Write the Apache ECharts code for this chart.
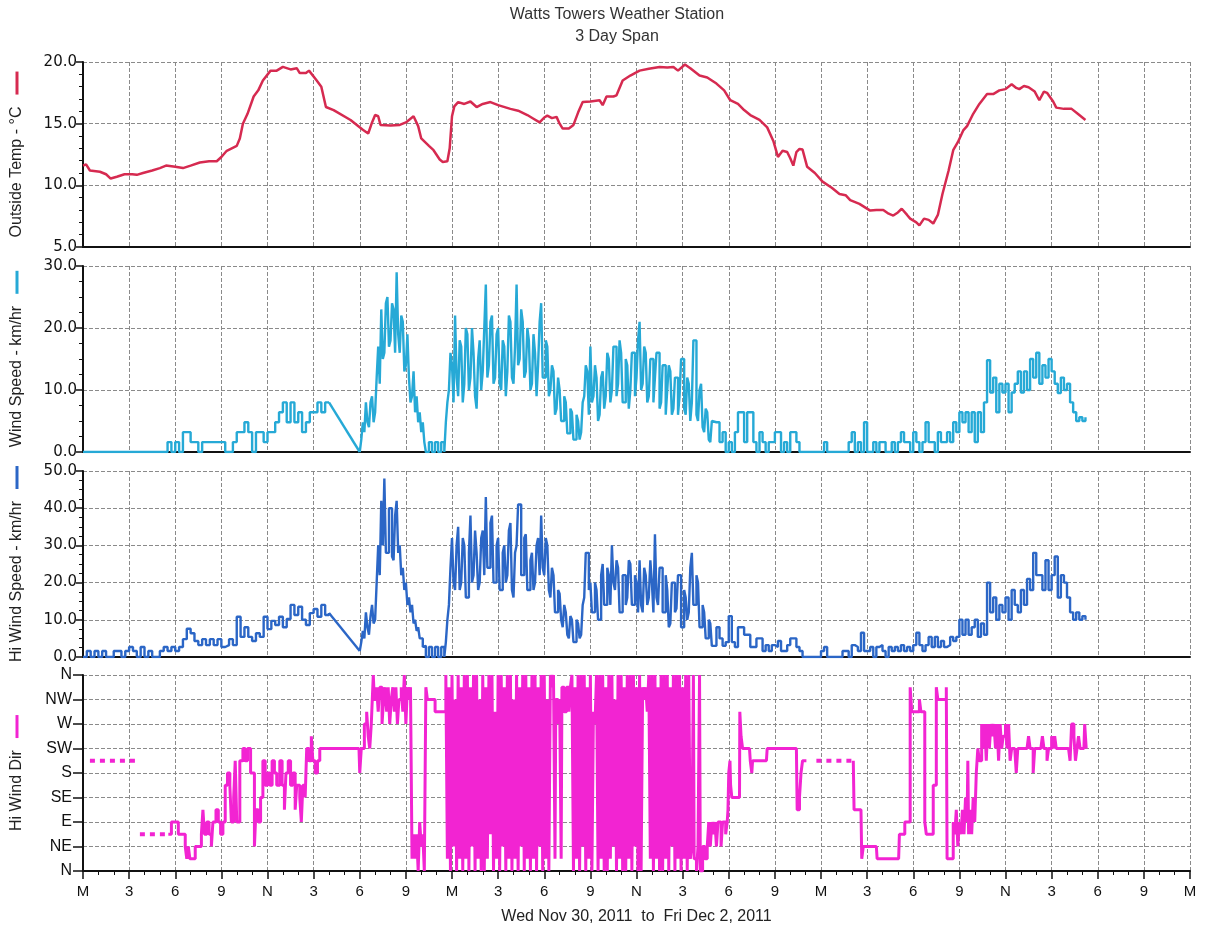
<!DOCTYPE html>
<html><head><meta charset="utf-8">
<script src="https://cdn.jsdelivr.net/npm/echarts@6/dist/echarts.min.js"></script>
<style>html,body{margin:0;padding:0;background:#fff}#c{width:1212px;height:930px}</style>
</head><body><div id="c"></div>
<script>
// ---------- tick labels ----------
const hourLabels = ['M','3','6','9','N','3','6','9'];
const dirLabels = ['N','NE','E','SE','S','SW','W','NW','N'];
const titleLines = ['Watts Towers Weather Station','3 Day Span'];
const xTitle = 'Wed Nov 30, 2011  to  Fri Dec 2, 2011';

// ---------- Outside temperature [hour, °C] ----------
const tempData = [[0,11.6],[0.2,11.7],[0.45,11.2],[1.1,11.1],[1.5,10.9],[1.8,10.55],[2.2,10.7],[2.7,10.9],[3.2,10.9],[3.5,10.85],[3.9,11.0],[4.5,11.2],[5.0,11.4],[5.4,11.6],[6.0,11.5],[6.5,11.4],[7.0,11.6],[7.6,11.85],[8.2,11.95],[8.7,11.95],[9.0,12.3],[9.35,12.8],[10.0,13.2],[10.2,13.8],[10.4,15.0],[10.7,15.8],[11.1,17.2],[11.4,17.7],[11.7,18.5],[12.2,19.3],[12.6,19.3],[13.0,19.6],[13.5,19.4],[13.9,19.5],[14.1,19.1],[14.5,19.1],[14.7,19.3],[15.2,18.5],[15.5,18.0],[15.8,16.35],[16.3,16.1],[17.4,15.3],[18.2,14.5],[18.55,14.2],[18.8,15.1],[19.0,15.7],[19.2,15.6],[19.35,14.9],[20.0,14.85],[20.6,14.9],[21.0,15.1],[21.5,15.6],[21.8,14.8],[22.0,13.8],[22.5,13.2],[22.8,12.85],[23.2,12.1],[23.4,11.9],[23.7,11.95],[23.85,13.0],[24.0,15.6],[24.15,16.4],[24.4,16.75],[24.8,16.6],[25.2,16.8],[25.6,16.35],[26.0,16.6],[26.5,16.75],[27.0,16.5],[27.8,16.2],[28.3,16.05],[28.9,15.7],[29.3,15.4],[29.7,15.1],[30.0,15.5],[30.2,15.65],[30.5,15.45],[30.8,15.55],[31.0,15.0],[31.2,14.6],[31.6,14.6],[31.9,14.9],[32.2,15.9],[32.5,16.75],[33.0,16.8],[33.6,16.9],[33.8,16.5],[34.05,17.2],[34.5,17.2],[34.7,17.3],[35.1,18.5],[35.6,18.9],[36.2,19.3],[36.8,19.45],[37.5,19.6],[38.0,19.55],[38.4,19.6],[38.7,19.3],[39.15,19.8],[39.5,19.5],[40.1,18.9],[40.6,18.75],[41.2,18.25],[41.7,17.7],[42.1,16.9],[42.6,16.6],[43.0,16.1],[43.4,15.7],[44.0,15.3],[44.5,14.7],[44.9,13.6],[45.2,12.3],[45.5,12.8],[45.8,12.7],[46.0,12.2],[46.2,11.6],[46.4,12.7],[46.6,12.95],[46.8,12.9],[47.1,11.5],[47.6,11.0],[48.1,10.3],[48.7,9.8],[49.2,9.3],[49.6,9.2],[49.9,8.8],[50.5,8.5],[51.2,7.95],[51.6,8.0],[52.05,8.0],[52.4,7.7],[52.7,7.55],[53.0,7.8],[53.25,8.1],[53.6,7.6],[53.8,7.3],[54.2,7.0],[54.4,6.75],[54.7,7.3],[55.0,7.2],[55.3,6.9],[55.6,7.6],[55.9,9.3],[56.3,11.2],[56.6,12.85],[56.9,13.5],[57.25,14.45],[57.5,14.8],[57.9,15.8],[58.3,16.6],[58.8,17.4],[59.2,17.4],[59.6,17.7],[60.0,17.8],[60.4,18.2],[60.7,17.9],[60.9,17.8],[61.2,18.05],[61.5,17.95],[61.9,17.6],[62.2,16.9],[62.5,17.6],[62.7,17.5],[63.1,16.8],[63.3,16.3],[63.8,16.2],[64.3,16.2],[64.7,15.8],[65.2,15.3]];

// ---------- Wind speed km/hr (uniform steps) ----------
const windAStart = 0, windAStep = 0.25;
const windA = [0,0,0,0,0,0,0,0,0,0,0,0,0,0,0,0,0,0,0,0,0,0,
 1.6,0,1.6,0,3.2,3.2,1.6,1.6,0,1.6,1.6,1.6,1.6,1.6,1.6,0,0,1.6,3.2,3.2,4.8,3.2,0,3.2,3.2,1.6,3.2,3.2,4.8,6.4,8.0,4.8,8.0,4.8,6.4,3.2,4.8,6.4,6.4,8.0,6.4,8.0,8.0];
const windBStart = 18, windBStep = 0.1;
const windB = [0,2,4.8,3.2,8.0,4.8,4.0,8.0,9.0,4.8,
 6.4,12,17,11,23,15,16,24,25,17,
 18,24,23,16,29,19,16,22,21,13,
 14,19,12,8,9,13,6.4,9,4.8,6.4,
 3.2,4.8,1.6,0,0,1.6,1.6,0,0,1.6,
 1.6,0,0,1.6,1.6,0,4.8,8,10,16,
 14,8,22,12,9,18,17,8,11,20,
 19,10,12,20,16,9,7,15,18,10,
 13,20,27,12,14,21,22,11,12,19,
 20,11,10,18,17,9,13,22,21,12,
 11,17,27,14,15,23,21,12,13,20,
 18,10,11,19,16,9,14,21,24,12,
 12,18,17,9,10,14,13,6,7,12,
 10,5,5,9,8,3,3,7,6.4,2,
 2,6,5,2,3.2,8,9,14,13,6,
 17,8,9,14,12,5,6,12,13,7,
 9,16,15,8,10,17,17,9,11,18,
 16,8,8,15,14,7,10,16,16,9,
 12,18,21,10,11,17,16,8,9,15,
 15,8,12,16,16,7,8,14,14,6,
 10,14,13,6,7,12,12,6,9,15,
 15,7,6,12,11,5,8,18,18,6,
 5,10,11,4,3.2,7,6.4,2,1.6,5,
 4.8];
const windCStart = 41.2, windCStep = 0.2;
const windC = [4.8,1.6,3.2,0,1.6,
 0,3.2,6.4,6.4,1.6,
 6.4,6.4,1.6,0,3.2,
 1.6,0,1.6,1.6,3.2,
 3.2,0,1.6,0,3.2,
 3.2,1.6,0,0,0,
 0,0,0,0,0,
 1.6,0,0,0,0,
 0,0,0,1.6,3.2,
 0,1.6,0,4.8,0,
 0,1.6,0,1.6,1.6,
 0,0,1.6,0,1.6,
 3.2,1.6,1.6,0,3.2,
 1.6,0,1.6,4.8,1.6,
 1.6,0,3.2,1.6,1.6,
 3.2,1.6,4.8,3.2,6.4,
 4.8,6.4,3.2,6.4,1.6,
 6.4,3.2,8.0,14.8,9.6,
 12,6.4,11,9.6,11,
 6.4,9.6,11,13,9.6,
 13,10,15,12,16,
 11,14,12,15,13,
 11,9.5,12,10,11,
 8,6.4,5,5.6,5,
 5.6];

// ---------- Hi wind speed km/hr ----------
const hiA = [0,1.6,0,1.6,0,1.6,0,0,1.6,1.6,
 0,1.6,2.7,1.6,0,2.7,0,1.6,0,0,
 1.6,2.7,1.6,2.7,1.6,2.7,4.8,7.6,6.4,4.3,
 3.2,4.8,3.2,4.8,3.2,4.8,2.7,3.2,4.8,3.2,
 10.8,5.4,8.0,5.4,4.3,6.4,5.4,10.8,7.5,9.7,
 8.6,10.8,8.0,10.2,14.0,11.3,13.5,10.0,8.6,11.8,
 12.9,10.8,14.0,11.3,11.8];
const hiB = [1.6,4,7,5,12,8,6,11,14,9,
 10,20,30,22,42,30,48,28,28,40,
 40,27,26,38,42,28,30,22,24,18,
 20,14,16,12,14,9,10,7,8,5,
 5,2.7,3,0,0,2.7,2.7,0,0,2.7,
 2.7,0,0,2.7,2.7,0,4,10,14,24,
 32,20,18,30,35,18,20,32,30,16,
 16,28,38,20,22,34,28,18,20,32,
 34,22,43,24,24,36,38,20,20,30,
 32,18,18,28,30,20,22,34,36,18,
 16,28,30,41,41,22,22,32,33,18,
 18,26,28,18,20,30,32,22,38,24,
 22,32,30,18,16,24,22,12,12,18,
 17,10,8,14,12,6,5,11,10,4,
 4,10,9,5,6,14,16,28,28,18,
 20,12,12,20,18,10,10,22,25,14,
 14,24,22,14,30,20,18,26,24,12,
 12,22,22,14,16,26,25,14,14,22,
 20,12,26,14,12,24,22,14,16,26,
 20,12,33,16,14,24,24,12,12,22,
 18,8,9,20,20,12,13,22,22,8,
 8,18,16,10,12,24,28,14,14,22,
 20,8,8,14,12,5,5,10,9,3,
 3];
const hiC = [8,5,3,4,11,
 4,2.7,8,8,6,
 6,2.7,2.7,5,5,
 1.6,3.2,1.6,3.2,2.7,
 4.3,1.6,1.6,3.2,5,
 5,2.7,1.6,0,0,
 0,0,0,0,1.6,
 2.7,0,0,0,0,
 0,1.6,1.6,0,3.2,
 2.7,1.6,6.5,1.6,1.6,
 2.7,0,2.7,3.2,1.6,
 0,2.7,1.6,2.7,1.6,
 3.2,1.6,2.7,1.6,3.2,
 6.5,3.2,1.6,3.2,5.4,
 2.7,5.4,2.7,4.3,2.7,
 3.2,5.4,4.3,5.4,10,
 6,10,6,8,10,
 5.4,9,6,20,12,
 16,10,14,12,16,
 10,18,14,12,18,
 14,21,18,28,22,
 22,18,26,18,22,
 27,16,22,20,16,
 12,10,12,10,11,
 10];

// ---------- Hi wind direction (degrees) ----------
const dirDot1 = [[0.45,202.5],[3.55,202.5]];
const dirDot2 = [[3.7,67.5],[5.55,67.5]];
const dirDot3 = [[47.7,202.5],[50.1,202.5]];
const dirA = [[5.55,67.5],[5.75,90],[5.95,90],[6.2,67.5],[6.5,67.5],[6.65,45],[6.75,22.5],[6.85,45],[6.95,22.5],[7.15,22.5],[7.3,45],[7.55,45],[7.7,67.5],[7.8,112.5],[7.9,67.5],[8.05,90],[8.2,67.5],[8.35,45],[8.45,90],[8.65,112.5],[8.8,90],[8.95,67.5],[9.1,90],[9.25,157.5],[9.4,180],[9.55,157.5],[9.65,90],[9.8,135],[9.9,202.5],[10.0,90],[10.2,202.5],[10.4,225],[10.55,202.5],[10.7,225],[10.9,180],[11.15,45],[11.25,112.5],[11.4,90],[11.55,135],[11.7,202.5],[11.85,157.5],[12.0,180],[12.15,157.5],[12.3,202.5],[12.45,180],[12.6,157.5],[12.8,202.5],[12.95,157.5],[13.1,112.5],[13.2,180],[13.35,202.5],[13.5,157.5],[13.65,180],[13.8,112.5],[13.9,157.5],[14.1,135],[14.2,90],[14.3,157.5],[14.45,135],[14.55,225],[14.7,202.5],[14.85,247.5],[14.95,202.5],[15.1,180],[15.25,202.5],[15.4,225],[17.95,225],[18.0,180],[18.1,225],[18.3,270],[18.45,292.5],[18.55,247.5],[18.65,225],[18.75,270],[18.88,360],[18.95,315],[19.1,337.5],[19.2,292.5],[19.3,337.5],[19.45,270],[19.55,315],[19.65,337.5],[19.75,292.5],[19.85,337.5],[19.95,270],[20.05,315],[20.15,337.5],[20.25,292.5],[20.35,337.5],[20.45,270],[20.55,315],[20.7,337.5],[20.8,292.5],[20.9,360],[21.0,270],[21.1,337.5],[21.2,315],[21.3,337.5],[21.4,22.5],[21.5,67.5],[21.6,22.5],[21.7,67.5],[21.8,0],[21.9,90],[22.0,45],[22.1,67.5],[22.2,0],[22.3,337.5],[22.4,315],[22.9,292.5]];
const dirBlock1Start = 23.6, dirBlock1Step = 0.1;
const dirBlock1 = [360,22.5,337.5,0,360,45,315,0,360,22.5,
 337.5,0,360,22.5,360,0,337.5,45,360,0,
 360,22.5,315,0,360,0,337.5,22.5,360,67.5,
 360,0,292.5,22.5,360,0,360,45,337.5,0,
 360,22.5,360,0,315,22.5,360,0,337.5,45,
 360,0,360,22.5,337.5,0,360,22.5,360,0,
 337.5,45,360,0,360,22.5,315,0,360];
const dirMid = [[30.5,337.5],[30.6,360],[30.7,22.5],[30.75,315],[30.9,270],[31.0,315],[31.1,22.5],[31.15,337.5],[31.3,292.5],[31.45,337.5],[31.6,292.5],[31.7,337.5]];
const dirBlock2Start = 31.8, dirBlock2Step = 0.1;
const dirBlock2 = [360,0,337.5,22.5,360,0,360,45,360,0,
 337.5,22.5,360,0,292.5,270,360,0,360,22.5,
 360,0,337.5,0,360,22.5,360,45,315,0,
 360,22.5,360,0,337.5,0,360,22.5,360,0,
 360,45,337.5,0,360,0,337.5,315,337.5,292.5,
 360,22.5,360,0,360,22.5,337.5,0,360,0,
 360,22.5,360,0,337.5,45,360,0,360,22.5,
 360,0,337.5,22.5,360,0,360];
const dirB = [[39.5,22.5],[39.6,45],[39.7,360],[39.75,22.5],[39.9,0],[40.0,45],[40.1,360],[40.15,0],[40.3,45],[40.45,22.5],[40.6,45],[40.7,90],[40.8,45],[40.9,90],[41.0,67.5],[41.1,90],[41.2,45],[41.3,90],[41.5,45],[41.6,90],[41.8,67.5],[41.9,90],[41.95,112.5],[42.0,180],[42.08,202.5],[42.12,157.5],[42.2,135],[42.7,135],[42.72,292.5],[42.8,247.5],[42.9,225],[43.35,225],[43.4,202.5],[43.5,180],[43.55,202.5],[44.45,202.5],[44.5,225],[46.4,225],[46.45,112.5],[46.6,135],[46.7,180],[46.8,202.5],[47.05,202.5]];
const dirC = [[50.1,202.5],[50.15,112.5],[50.6,112.5],[50.65,22.5],[50.75,45],[51.6,45],[51.65,22.5],[53.05,22.5],[53.1,67.5],[53.45,90],[53.8,337.5],[53.9,292.5],[54.4,315],[54.5,292.5],[54.75,90],[54.85,67.5],[55.3,157.5],[55.5,337.5],[55.6,315],[56.15,337.5],[56.2,22.5],[56.6,90],[56.7,67.5],[56.8,112.5],[56.9,45],[57.0,90],[57.1,67.5],[57.2,112.5],[57.3,67.5],[57.4,135],[57.5,90],[57.55,202.5],[57.6,67.5],[57.7,112.5],[57.8,67.5],[57.9,135],[58.0,90],[58.1,180],[58.2,225],[58.3,202.5],[58.45,270],[58.55,225],[58.65,270],[58.75,202.5],[58.85,270],[58.95,225],[59.05,270],[59.15,247.5],[59.25,270],[59.35,225],[59.45,270],[59.55,202.5],[59.65,270],[59.75,225],[59.85,247.5],[60.0,270],[60.1,225],[60.2,270],[60.3,202.5],[60.4,225],[60.6,225],[60.7,180],[60.8,225],[61.4,225],[61.5,247.5],[61.6,225],[61.8,180],[61.9,225],[62.3,225],[62.4,247.5],[62.5,225],[62.7,202.5],[62.8,225],[63.0,247.5],[63.1,225],[63.2,247.5],[63.3,225],[64.1,225],[64.2,202.5],[64.3,270],[64.45,247.5],[64.55,202.5],[64.65,225],[64.75,247.5],[64.85,225],[65.1,225],[65.15,270],[65.25,225]];

// ---------- build ----------
const seq = (arr, start, step) => arr.map((v, i) => [Math.round((start + i * step) * 1000) / 1000, v]);
const C_TEMP = '#d62a50', C_WIND = '#26a9d6', C_HI = '#2b66c6', C_DIR = '#f224d2';
const FONT = '"Liberation Sans", Arial, sans-serif';
const NUMFONT = '"DejaVu Sans", sans-serif';
const GRID_C = '#8a8a8a';

const windAData = seq(windA, windAStart, windAStep);
const windBCData = seq(windB, windBStart, windBStep).concat(seq(windC, windCStart, windCStep));
const windGap = [windAData[windAData.length - 1], windBCData[0]];
const hiAData = seq(hiA, windAStart, windAStep);
const hiBCData = seq(hiB, windBStart, windBStep).concat(seq(hiC, windCStart, windCStep));
const hiGap = [hiAData[hiAData.length - 1], hiBCData[0]];
const dirMain = dirA.concat(seq(dirBlock1, dirBlock1Start, dirBlock1Step), dirMid, seq(dirBlock2, dirBlock2Start, dirBlock2Step), dirB);

const grids = [
  {left: 83, right: 22, top: 62, height: 185},
  {left: 83, right: 22, top: 266, height: 186},
  {left: 83, right: 22, top: 471, height: 186},
  {left: 83, right: 22, top: 675, height: 196}
];

function xAx(i, last) {
  return {
    type: 'value', gridIndex: i, min: 0, max: 72, interval: 3,
    axisLine: {show: true, onZero: false, lineStyle: {color: '#111', width: 2}},
    axisTick: {show: last, length: 8, lineStyle: {color: '#111', width: 1.5}},
    minorTick: {show: last, splitNumber: 3, length: 4, lineStyle: {color: '#111', width: 1}},
    axisLabel: {show: last, formatter: v => hourLabels[Math.round(v / 3) % 8], color: '#111', fontSize: 15, margin: 13, fontFamily: FONT},
    splitLine: {show: true, lineStyle: {color: GRID_C, type: [4, 2], width: 1}},
    name: last ? xTitle : '', nameLocation: 'middle', nameGap: 38,
    nameTextStyle: {fontSize: 16, color: '#222', fontFamily: FONT}
  };
}
function yAx(i, min, max, interval, minorSplit, name, color, fmt, tickLen, margin, labFont, labSize) {
  return {
    type: 'value', gridIndex: i, min: min, max: max, interval: interval,
    axisLine: {show: true, onZero: false, lineStyle: {color: '#111', width: 2}},
    axisTick: {show: true, length: tickLen, lineStyle: {color: '#111', width: 1.5}},
    minorTick: {show: minorSplit > 0, splitNumber: minorSplit || 5, length: 4, lineStyle: {color: '#111', width: 1}},
    axisLabel: {formatter: fmt, color: '#111', fontSize: labSize, margin: margin, fontFamily: labFont},
    splitLine: {show: true, lineStyle: {color: GRID_C, type: [4, 2], width: 1}},
    name: '{t|' + name + '}{s|}{m|}', nameLocation: 'middle', nameGap: 58,
    nameTextStyle: {rich: {
      t: {fontSize: 16, color: '#222', fontFamily: FONT},
      s: {width: 12, height: 2},
      m: {width: 23, height: 3, backgroundColor: color}
    }}
  };
}
const f1 = v => v.toFixed(1);

const lineBase = {type: 'line', showSymbol: false, symbol: 'none', silent: true, animation: false};
const mk = (xi, data, color, width, step, dash) => Object.assign({}, lineBase, {
  xAxisIndex: xi, yAxisIndex: xi, data: data, step: step || false,
  lineStyle: {color: color, width: width, type: dash || 'solid'}
});

const option = {
  animation: false,
  backgroundColor: '#fff',
  grid: grids,
  graphic: [
    {type: 'text', x: 617, y: 7, style: {text: titleLines[0], fill: '#333', font: '16px ' + FONT, textAlign: 'center', textVerticalAlign: 'top'}},
    {type: 'text', x: 617, y: 29, style: {text: titleLines[1], fill: '#333', font: '16px ' + FONT, textAlign: 'center', textVerticalAlign: 'top'}}
  ],
  xAxis: [xAx(0, false), xAx(1, false), xAx(2, false), xAx(3, true)],
  yAxis: [
    yAx(0, 5, 20, 5, 5, 'Outside Temp - °C', C_TEMP, f1, 7, 6, NUMFONT, 15),
    yAx(1, 0, 30, 10, 4, 'Wind Speed - km/hr', C_WIND, f1, 7, 6, NUMFONT, 15),
    yAx(2, 0, 50, 10, 4, 'Hi Wind Speed - km/hr', C_HI, f1, 7, 6, NUMFONT, 15),
    yAx(3, 0, 360, 45, 0, 'Hi Wind Dir', C_DIR, v => dirLabels[Math.round(v / 45)], 10, 11, FONT, 16)
  ],
  series: [
    mk(0, tempData, C_TEMP, 2.5),
    mk(1, windAData, C_WIND, 2.4, 'end'),
    mk(1, windGap, C_WIND, 2.4),
    mk(1, windBCData, C_WIND, 2.4, 'end'),
    mk(2, hiAData, C_HI, 2.4, 'end'),
    mk(2, hiGap, C_HI, 2.4),
    mk(2, hiBCData, C_HI, 2.4, 'end'),
    mk(3, dirDot1, C_DIR, 4, false, [5, 5]),
    mk(3, dirDot2, C_DIR, 4, false, [5, 5]),
    mk(3, dirDot3, C_DIR, 4, false, [5, 5]),
    mk(3, dirMain, C_DIR, 3, 'end'),
    mk(3, dirC, C_DIR, 3, 'end')
  ]
};
const chart = echarts.init(document.getElementById('c'));
chart.setOption(option);
</script>
</body></html>
